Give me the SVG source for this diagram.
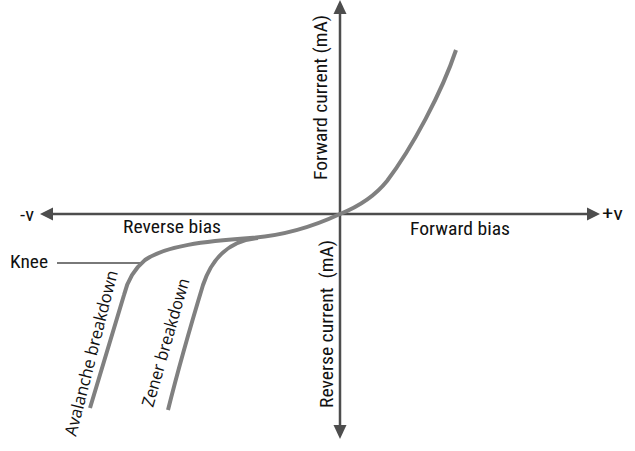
<svg xmlns="http://www.w3.org/2000/svg" width="635" height="451" viewBox="0 0 635 451">
<style>
.axis{stroke:#4d4d4d;stroke-width:2.5;fill:none}
.curve{stroke:#808080;stroke-width:4;fill:none;stroke-linecap:butt;stroke-linejoin:round}
.lbl{font-family:Roboto,"Liberation Sans",sans-serif;font-size:19px;fill:#111111;font-stretch:condensed}
.rot{font-family:"Open Sans","Noto Sans",sans-serif;font-size:17px;fill:#111111}
.lead{stroke:#4d4d4d;stroke-width:1.3;fill:none}
</style>
<rect width="635" height="451" fill="#ffffff"/>
<g id="connectors">
  <g id="x-axis">
    <line class="axis" x1="50" y1="214" x2="590" y2="214"/>
    <polygon points="40,214 53,207.5 53,220.5" fill="#4d4d4d"/>
    <polygon points="600,214 587,207.5 587,220.5" fill="#4d4d4d"/>
  </g>
  <g id="y-axis">
    <line class="axis" x1="340" y1="10" x2="340" y2="428"/>
    <polygon points="340,0 333.5,14 346.5,14" fill="#4d4d4d"/>
    <polygon points="340,439 333.5,425 346.5,425" fill="#4d4d4d"/>
  </g>
  <line id="knee-leader" class="lead" x1="57" y1="263" x2="142" y2="263"/>
</g>
<g id="curves">
  <path id="main-curve" class="curve" d="M456 50 C442 92 412 148 387 181 C375 196 360 206 340 214 C310 228 280 236 250 238 C205 241 165 246 145 260 C133 270 127 282 124 295 L90 408"/>
  <path id="zener-curve" class="curve" d="M258 238 C230 240 212 258 203 285 C193 318 178 370 168 410"/>
</g>
<g id="labels">
  <text id="neg-v" class="lbl" x="20" y="221" textLength="14" lengthAdjust="spacingAndGlyphs">-v</text>
  <text id="pos-v" class="lbl" x="602" y="220" textLength="21" lengthAdjust="spacingAndGlyphs">+v</text>
  <text id="reverse-bias" class="lbl" x="123" y="233" textLength="98" lengthAdjust="spacingAndGlyphs">Reverse bias</text>
  <text id="forward-bias" class="lbl" x="410" y="235" textLength="100" lengthAdjust="spacingAndGlyphs">Forward bias</text>
  <text id="knee" class="lbl" x="10" y="268" textLength="38" lengthAdjust="spacingAndGlyphs">Knee</text>
  <text id="forward-current" class="lbl" transform="translate(327,180) rotate(-90)" textLength="165" lengthAdjust="spacingAndGlyphs">Forward current (mA)</text>
  <text id="reverse-current" class="lbl" transform="translate(333,408) rotate(-90)" textLength="168" lengthAdjust="spacingAndGlyphs" xml:space="preserve">Reverse current  (mA)</text>
  <text id="avalanche" class="rot" transform="translate(76,437) rotate(-75.7)" textLength="170" lengthAdjust="spacingAndGlyphs">Avalanche breakdown</text>
  <text id="zener" class="rot" transform="translate(153,408) rotate(-74)" textLength="133" lengthAdjust="spacingAndGlyphs">Zener breakdown</text>
</g>
</svg>
